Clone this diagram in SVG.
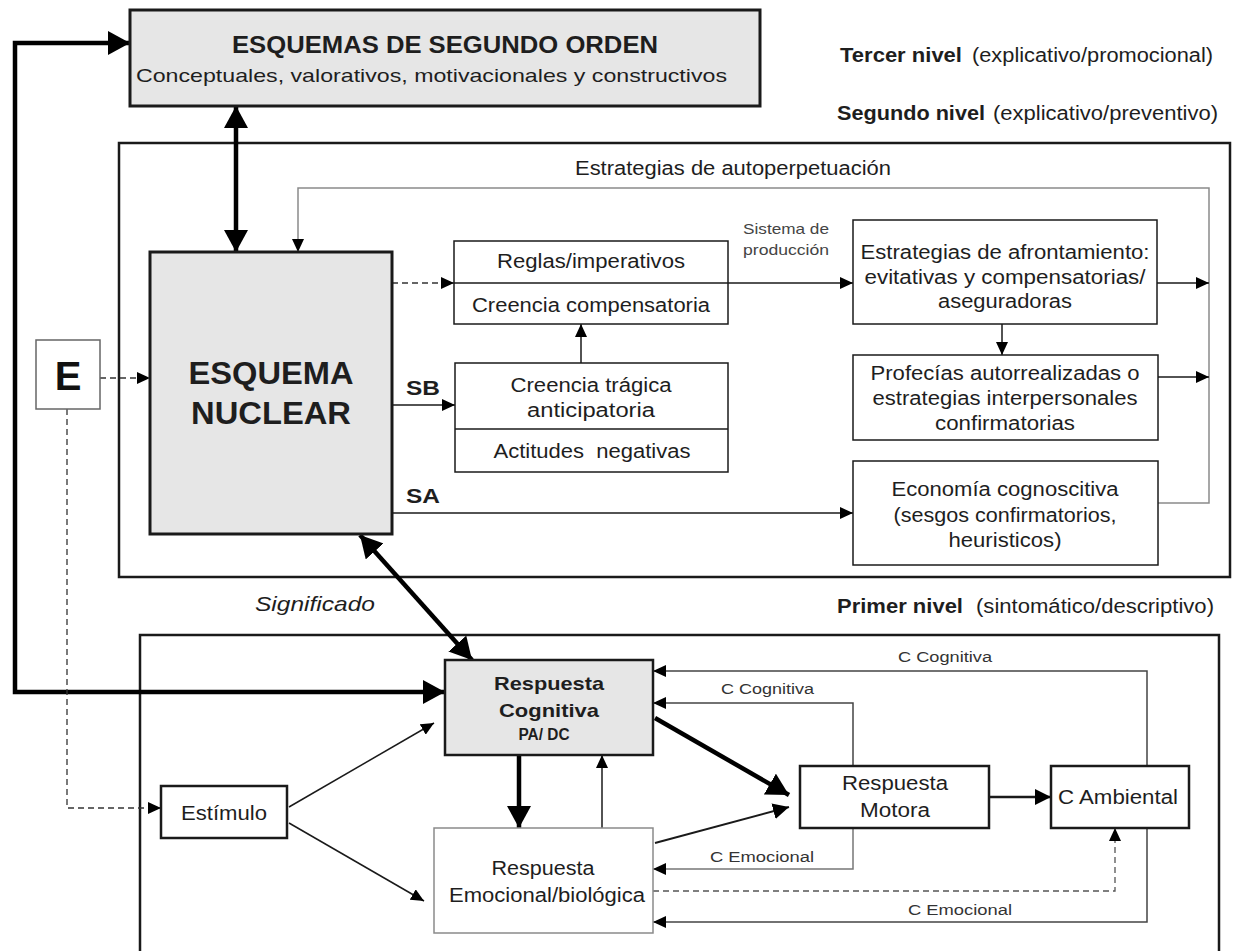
<svg xmlns="http://www.w3.org/2000/svg" width="1243" height="951" viewBox="0 0 1243 951">
<defs>
<style>
text{font-family:"Liberation Sans",Arial,Helvetica,sans-serif;fill:#1e1e1e}
.b{font-weight:bold}
.m{font-size:20px}
.s{font-size:15.5px;fill:#333}
.box{fill:#fff;stroke:#1a1a1a;stroke-width:2}
.gbox{fill:#e6e6e6;stroke:#1a1a1a;stroke-width:3}
.lbox{fill:#fff;stroke:#8a8a8a;stroke-width:1.5}
.frame{fill:none;stroke:#1a1a1a;stroke-width:2.5}
.ln{fill:none;stroke:#1a1a1a;stroke-width:1.5}
.dg{fill:none;stroke:#444;stroke-width:1.5}
.thick{fill:none;stroke:#000;stroke-width:4.5}
.gray{fill:none;stroke:#8a8a8a;stroke-width:1.5}
.dash{fill:none;stroke:#333;stroke-width:1.3;stroke-dasharray:6 4}
</style>
<marker id="aL" markerUnits="userSpaceOnUse" viewBox="0 0 22 24" markerWidth="22" markerHeight="24" refX="22" refY="12" orient="auto-start-reverse"><path d="M0,0 L22,12 L0,24 z" fill="#000"/></marker>
<marker id="aM" markerUnits="userSpaceOnUse" viewBox="0 0 16 16" markerWidth="16" markerHeight="16" refX="16" refY="8" orient="auto-start-reverse"><path d="M0,0 L16,8 L0,16 z" fill="#000"/></marker>
<marker id="aS" markerUnits="userSpaceOnUse" viewBox="0 0 13 12" markerWidth="13" markerHeight="12" refX="13" refY="6" orient="auto-start-reverse"><path d="M0,0 L13,6 L0,12 z" fill="#000"/></marker>
</defs>
<rect width="1243" height="951" fill="#fff"/>

<!-- frames -->
<g id="nivel2-frame"><rect x="119" y="143" width="1111" height="434" class="frame"/></g>
<g id="nivel1-frame"><rect x="140" y="635" width="1079" height="330" class="frame"/></g>

<!-- level labels -->
<g id="labels">
<text x="840" y="62" class="m b" textLength="122" lengthAdjust="spacingAndGlyphs">Tercer nivel</text>
<text x="972" y="62" class="m" textLength="241" lengthAdjust="spacingAndGlyphs">(explicativo/promocional)</text>
<text x="837" y="120" class="m b" textLength="148" lengthAdjust="spacingAndGlyphs">Segundo nivel</text>
<text x="993" y="120" class="m" textLength="225" lengthAdjust="spacingAndGlyphs">(explicativo/preventivo)</text>
<text x="575" y="175" class="m" textLength="316" lengthAdjust="spacingAndGlyphs">Estrategias de autoperpetuación</text>
<text x="743" y="234" style="font-size:15px;fill:#444" textLength="86" lengthAdjust="spacingAndGlyphs">Sistema de</text>
<text x="743" y="255" style="font-size:15px;fill:#444" textLength="86" lengthAdjust="spacingAndGlyphs">producción</text>
<text x="406" y="395" class="b" style="font-size:21px" textLength="34" lengthAdjust="spacingAndGlyphs">SB</text>
<text x="406" y="503" class="b" style="font-size:21px" textLength="34" lengthAdjust="spacingAndGlyphs">SA</text>
<text x="255" y="611" style="font-size:21px;font-style:italic" textLength="120" lengthAdjust="spacingAndGlyphs">Significado</text>
<text x="837" y="613" class="m b" textLength="126" lengthAdjust="spacingAndGlyphs">Primer nivel</text>
<text x="976" y="613" class="m" textLength="238" lengthAdjust="spacingAndGlyphs">(sintomático/descriptivo)</text>
<text x="898" y="662" class="s" textLength="94" lengthAdjust="spacingAndGlyphs">C Cognitiva</text>
<text x="721" y="694" class="s" textLength="93" lengthAdjust="spacingAndGlyphs">C Cognitiva</text>
<text x="710" y="862" class="s" textLength="104" lengthAdjust="spacingAndGlyphs">C Emocional</text>
<text x="908" y="915" class="s" textLength="104" lengthAdjust="spacingAndGlyphs">C Emocional</text>
</g>

<!-- connectors -->
<g id="connectors">
<path d="M445,692 H15 V43 H130" class="thick" marker-start="url(#aL)" marker-end="url(#aL)"/>
<path d="M236,106 V252" class="thick" marker-start="url(#aL)" marker-end="url(#aL)"/>
<path d="M1157,503 H1209 V188 H298 V252" class="gray" marker-end="url(#aS)"/>
<path d="M1157,283 H1209" class="ln" marker-end="url(#aS)"/>
<path d="M1158,377 H1209" class="ln" marker-end="url(#aS)"/>
<path d="M1002,324 V355" class="ln" marker-end="url(#aS)"/>
<path d="M728,283 H853" class="ln" marker-end="url(#aS)"/>
<path d="M392,283 H454" class="dash" marker-end="url(#aS)"/>
<path d="M100,378 H150" class="dash" marker-end="url(#aS)"/>
<path d="M67,409 V808 H161" class="dash" marker-end="url(#aS)"/>
<path d="M392,405 H455" class="ln" marker-end="url(#aS)"/>
<path d="M392,513 H853" class="ln" marker-end="url(#aS)"/>
<path d="M581,363 V324" class="ln" marker-end="url(#aS)"/>
<path d="M360,535 L472,660" class="thick" marker-start="url(#aL)" marker-end="url(#aL)"/>
<path d="M519,755 V828" class="thick" marker-end="url(#aL)"/>
<path d="M602,828 V755" class="ln" marker-end="url(#aS)"/>
<path d="M289,807 L434,723" class="ln" marker-end="url(#aS)"/>
<path d="M289,823 L424,901" class="ln" marker-end="url(#aS)"/>
<path d="M655,718 L789,795" class="thick" marker-end="url(#aL)"/>
<path d="M655,843 L789,807" class="ln" style="stroke-width:2" marker-end="url(#aM)"/>
<path d="M989,797 H1051" class="ln" style="stroke-width:2.5" marker-end="url(#aM)"/>
<path d="M1147,766 V671 H653" class="dg" marker-end="url(#aS)"/>
<path d="M853,766 V703 H653" class="dg" marker-end="url(#aS)"/>
<path d="M853,828 V869 H653" class="gray" style="stroke:#777" marker-end="url(#aS)"/>
<path d="M653,891 H1115 V828" class="dash" style="stroke:#555" marker-end="url(#aS)"/>
<path d="M1147,828 V922 H653" class="dg" marker-end="url(#aS)"/>
</g>

<!-- nodes -->
<g id="esquemas-segundo-orden">
<rect x="130" y="10" width="630" height="96" class="gbox"/>
<text x="232" y="53" class="b" style="font-size:24px" textLength="426" lengthAdjust="spacingAndGlyphs">ESQUEMAS DE SEGUNDO ORDEN</text>
<text x="136" y="82" style="font-size:18.5px" textLength="591" lengthAdjust="spacingAndGlyphs">Conceptuales, valorativos, motivacionales y constructivos</text>
</g>

<g id="esquema-nuclear">
<rect x="150" y="252" width="242" height="282" class="gbox"/>
<text x="271" y="384" text-anchor="middle" class="b" style="font-size:31px" textLength="165" lengthAdjust="spacingAndGlyphs">ESQUEMA</text>
<text x="271" y="424" text-anchor="middle" class="b" style="font-size:31px" textLength="160" lengthAdjust="spacingAndGlyphs">NUCLEAR</text>
</g>

<g id="E">
<rect x="36" y="340" width="64" height="69" class="lbox" style="stroke:#666"/>
<text x="68" y="390" text-anchor="middle" class="b" style="font-size:40px;fill:#111">E</text>
</g>

<g id="reglas">
<rect x="454" y="241" width="274" height="83" class="box" style="stroke-width:1.5"/>
<line x1="454" y1="283" x2="728" y2="283" class="ln"/>
<text x="591" y="268" text-anchor="middle" class="m" textLength="188" lengthAdjust="spacingAndGlyphs">Reglas/imperativos</text>
<text x="591" y="312" text-anchor="middle" class="m" textLength="238" lengthAdjust="spacingAndGlyphs">Creencia compensatoria</text>
</g>

<g id="creencia-tragica">
<rect x="455" y="363" width="273" height="109" class="box" style="stroke-width:1.5"/>
<line x1="455" y1="429" x2="728" y2="429" class="ln"/>
<text x="591" y="392" text-anchor="middle" class="m" textLength="161" lengthAdjust="spacingAndGlyphs">Creencia trágica</text>
<text x="591" y="417" text-anchor="middle" class="m" textLength="128" lengthAdjust="spacingAndGlyphs">anticipatoria</text>
<text x="592" y="458" text-anchor="middle" class="m" style="white-space:pre" textLength="197" lengthAdjust="spacingAndGlyphs">Actitudes  negativas</text>
</g>

<g id="estrategias-afrontamiento">
<rect x="853" y="220" width="304" height="104" class="box" style="stroke-width:1.5"/>
<text x="1005" y="259" text-anchor="middle" class="m" textLength="289" lengthAdjust="spacingAndGlyphs">Estrategias de afrontamiento:</text>
<text x="1005" y="284" text-anchor="middle" class="m" textLength="281" lengthAdjust="spacingAndGlyphs">evitativas y compensatorias/</text>
<text x="1005" y="308" text-anchor="middle" class="m" textLength="134" lengthAdjust="spacingAndGlyphs">aseguradoras</text>
</g>

<g id="profecias">
<rect x="853" y="355" width="305" height="85" class="box" style="stroke-width:1.5"/>
<text x="1005" y="380" text-anchor="middle" class="m" textLength="269" lengthAdjust="spacingAndGlyphs">Profecías autorrealizadas o</text>
<text x="1005" y="405" text-anchor="middle" class="m" textLength="265" lengthAdjust="spacingAndGlyphs">estrategias interpersonales</text>
<text x="1005" y="430" text-anchor="middle" class="m" textLength="140" lengthAdjust="spacingAndGlyphs">confirmatorias</text>
</g>

<g id="economia">
<rect x="853" y="461" width="305" height="104" class="box" style="stroke-width:1.5"/>
<text x="1005" y="496" text-anchor="middle" class="m" textLength="227" lengthAdjust="spacingAndGlyphs">Economía cognoscitiva</text>
<text x="1005" y="522" text-anchor="middle" class="m" textLength="223" lengthAdjust="spacingAndGlyphs">(sesgos confirmatorios,</text>
<text x="1005" y="547" text-anchor="middle" class="m" textLength="113" lengthAdjust="spacingAndGlyphs">heuristicos)</text>
</g>

<g id="respuesta-cognitiva">
<rect x="445" y="660" width="208" height="95" class="gbox" style="stroke-width:2.5"/>
<text x="549" y="690" text-anchor="middle" class="b" style="font-size:19px" textLength="110" lengthAdjust="spacingAndGlyphs">Respuesta</text>
<text x="549" y="717" text-anchor="middle" class="b" style="font-size:19px" textLength="100" lengthAdjust="spacingAndGlyphs">Cognitiva</text>
<text x="544" y="740" text-anchor="middle" class="b" style="font-size:16px" textLength="51" lengthAdjust="spacingAndGlyphs">PA/ DC</text>
</g>

<g id="estimulo">
<rect x="161" y="786" width="126" height="52" class="box" style="stroke-width:2.5"/>
<text x="224" y="820" text-anchor="middle" class="m" textLength="86" lengthAdjust="spacingAndGlyphs">Estímulo</text>
</g>

<g id="respuesta-emocional">
<rect x="434" y="828" width="219" height="105" class="lbox"/>
<text x="543" y="875" text-anchor="middle" class="m" textLength="103" lengthAdjust="spacingAndGlyphs">Respuesta</text>
<text x="547" y="902" text-anchor="middle" class="m" textLength="196" lengthAdjust="spacingAndGlyphs">Emocional/biológica</text>
</g>

<g id="respuesta-motora">
<rect x="800" y="766" width="189" height="62" class="box" style="stroke-width:2.5"/>
<text x="895" y="790" text-anchor="middle" class="m" textLength="106" lengthAdjust="spacingAndGlyphs">Respuesta</text>
<text x="895" y="817" text-anchor="middle" class="m" textLength="70" lengthAdjust="spacingAndGlyphs">Motora</text>
</g>

<g id="c-ambiental">
<rect x="1051" y="766" width="138" height="62" class="box" style="stroke-width:2.5"/>
<text x="1118" y="804" text-anchor="middle" class="m" textLength="120" lengthAdjust="spacingAndGlyphs">C Ambiental</text>
</g>
</svg>
